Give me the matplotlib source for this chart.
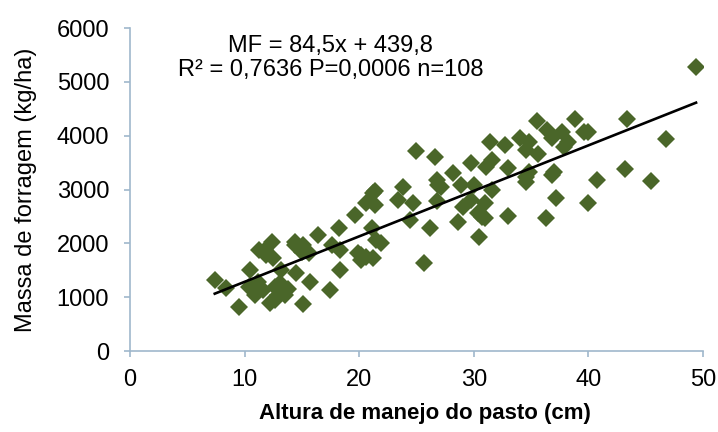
import numpy as np
import matplotlib
matplotlib.use("Agg")
import matplotlib.pyplot as plt

# Altura de manejo do pasto (cm) x massa de forragem (kg/ha)
altura = [
    7.4, 8.4, 9.5, 10.5, 10.4, 10.9, 11.3, 11.3, 11.6, 11.2,
    12.4, 12.5, 11.8, 12.2, 12.65, 12.65, 12.9, 13.1, 13.4, 13.5,
    13.2, 14.4, 14.4, 15.0, 15.6, 14.5, 15.7, 15.1, 16.4, 15.1,
    17.5, 17.6, 18.2, 18.3, 18.3, 19.6, 20.2, 19.9, 20.6, 21.2,
    20.2, 21.4, 20.6, 21.2, 21.4, 21.1, 21.5, 21.9, 11.9, 13.8,
    23.4, 23.8, 24.4, 24.7, 25.0, 25.7, 26.2, 26.6, 26.8, 26.9,
    26.8, 27.1, 28.2, 28.6, 28.9, 29.1, 29.8, 29.8, 30.0, 30.4,
    30.7, 31.0, 30.5, 31.4, 31.6, 31.1, 31.6, 32.7, 33.0, 33.0,
    34.0, 34.8, 35.5, 34.6, 34.6, 34.6, 34.8, 35.6, 36.4, 36.8,
    37.7, 37.9, 38.2, 38.8, 39.6, 40.0, 36.8, 37.0, 37.2, 36.3,
    40.0, 40.8, 43.4, 43.2, 45.5, 46.8, 49.4, 31.0,
]
massa = [
    1320, 1165, 820, 1505, 1195, 1040, 1880, 1195, 1130, 1290,
    2030, 1720, 1880, 890, 950, 1195, 1040, 1260, 1100, 1040,
    1505, 2030, 1970, 1845, 1815, 1445, 1290, 880, 2160, 1970,
    1130, 1970, 2290, 1505, 1880, 2527, 1780, 1815, 1752, 1722,
    1690, 2713, 2744, 2930, 2975, 2280, 2062, 2010, 1790, 1160,
    2806, 3053, 2434, 2744, 3722, 1629, 2280, 3610, 3177, 3084,
    2790, 3053, 3301, 2403, 3084, 2682, 3487, 2806, 3084, 2558,
    2496, 2744, 2124, 3889, 3549, 3425, 2991, 3827, 3394, 2508,
    3952, 3889, 4280, 3735, 3239, 3146, 3331, 3660, 4106, 3952,
    4075, 3796, 3889, 4305, 4075, 4075, 3270, 3331, 2837, 2466,
    2755, 3177, 4311, 3382, 3159, 3939, 5282, 2466,
]

coef_a, coef_b = 84.5, 439.8
x_ticks = [0, 10, 20, 30, 40, 50]
y_ticks = [0, 1000, 2000, 3000, 4000, 5000, 6000]

plt.rcParams['font.family'] = ['Liberation Sans', 'DejaVu Sans']

fig = plt.figure(figsize=(7.18, 4.32), dpi=100)
ax = fig.add_axes([0.181, 0.1875, 0.798, 0.7475])

ax.plot(altura, massa, 'D', color='#4a6629', markersize=9, markeredgewidth=0)

xl = np.array([min(altura), max(altura)])
ax.plot(xl, coef_a * xl + coef_b, color='black', linewidth=1.9)

ax.set_xlim(0, 50)
ax.set_ylim(0, 6000)
ax.set_xticks(x_ticks)
ax.set_yticks(y_ticks)

axis_col = '#9fb8cc'
for s in ['top', 'right']:
    ax.spines[s].set_visible(False)
for s in ['left', 'bottom']:
    ax.spines[s].set_color(axis_col)
    ax.spines[s].set_linewidth(1.2)
ax.tick_params(colors=axis_col, labelcolor='black', labelsize=17, length=4, width=1.2)
ax.tick_params(axis='x', pad=9)
ax.tick_params(axis='y', pad=11)

ax.set_ylabel('Massa de forragem (kg/ha)', fontsize=17)
ax.yaxis.set_label_coords(-0.162, 0.5)
ax.set_xlabel('Altura de manejo do pasto (cm)', fontsize=16, fontweight='bold')
ax.xaxis.set_label_coords(0.515, -0.16)

ax.text(17.5, 5660, 'MF = 84,5x + 439,8', fontsize=17, ha='center', va='center')
ax.text(17.5, 5220, 'R² = 0,7636 P=0,0006 n=108', fontsize=17, ha='center', va='center')

fig.savefig('out.png', dpi=100)
